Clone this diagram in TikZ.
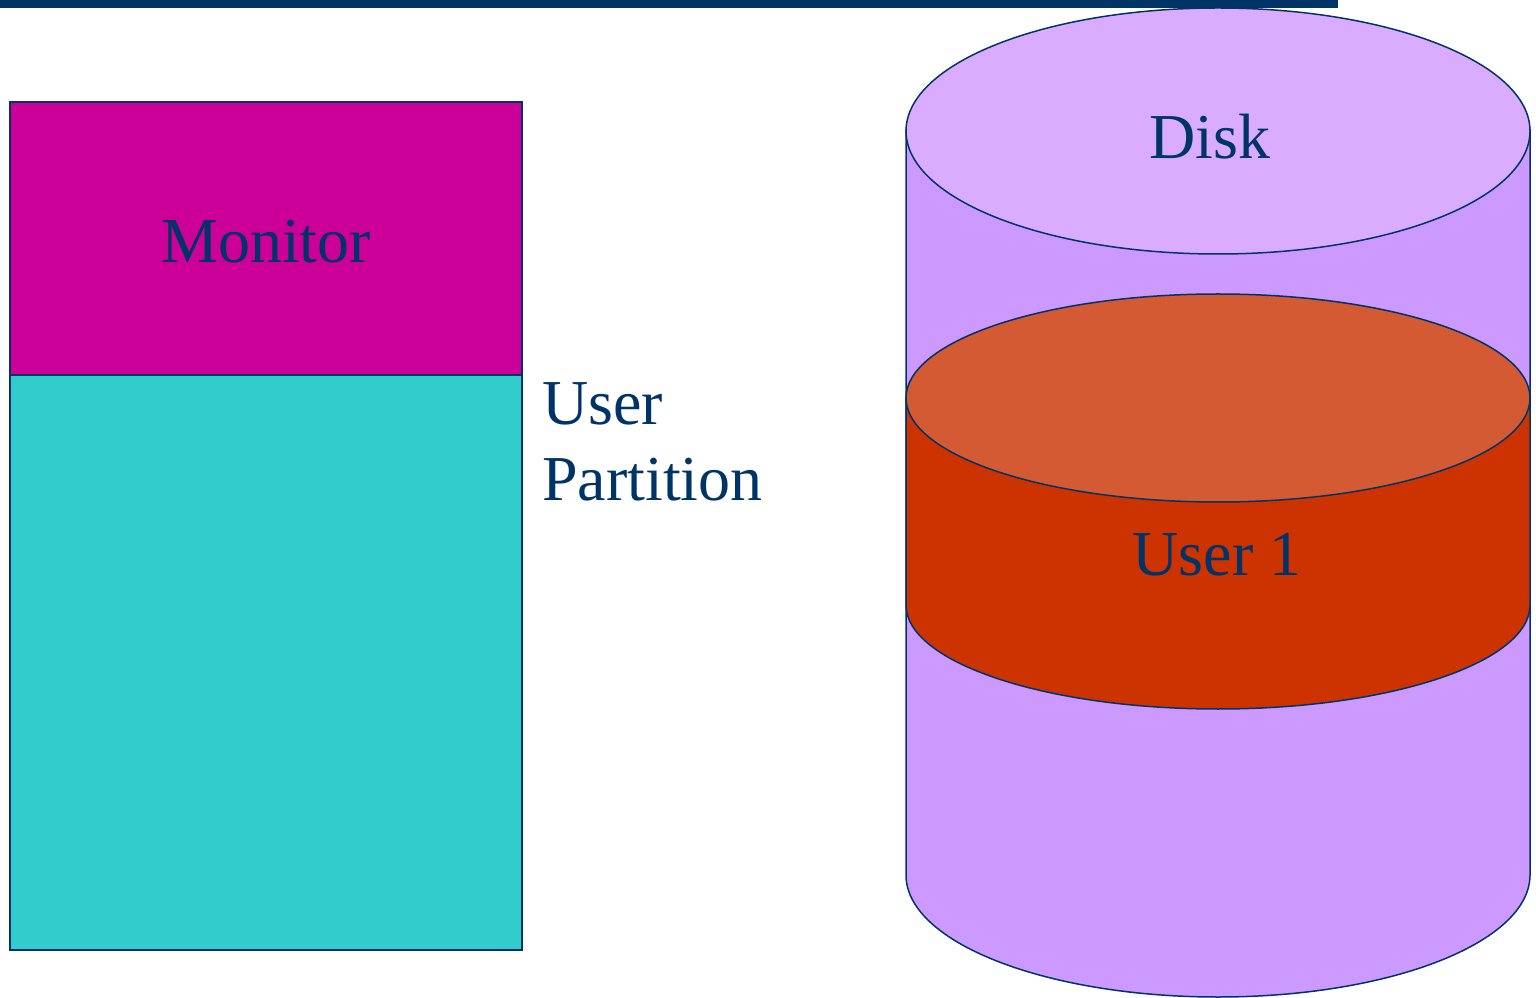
\documentclass[tikz,border=0pt]{standalone}
\usepackage{fontspec}
\setmainfont{Liberation Serif}
\definecolor{navy}{HTML}{003366}
\definecolor{monitorfill}{HTML}{CC0099}
\definecolor{userfill}{HTML}{33CCCC}
\definecolor{diskside}{HTML}{CC99FF}
\definecolor{disktop}{HTML}{D9ACFF}
\definecolor{usrside}{HTML}{CC3300}
\definecolor{usrtop}{HTML}{D45A33}
\tikzset{
  outline/.style={draw=navy, line width=1.5pt},
  label/.style={text=navy, inner sep=0pt, font=\fontsize{64}{76}\selectfont},
}
\begin{document}
\begin{tikzpicture}[x=1pt,y=1pt]
\useasboundingbox (0,0) rectangle (1536,997);
% title rule
\fill[navy] (0,989) rectangle (1338,997);
% memory layout
\path[outline, fill=monitorfill] (10,895) rectangle (522,622);
\path[outline, fill=userfill] (10,622) rectangle (522,47);
\node[label] (monitor) at (266,755) {Monitor};
\node[label, anchor=north west, align=left] (userpart) at (542,615) {User\\Partition};
% disk cylinder
\path[outline, fill=diskside] (906,867) -- (906,122)
  arc[start angle=180, end angle=360, x radius=312, y radius=122]
  -- (1530,867) -- cycle;
\path[outline, fill=disktop] (1218,866) ellipse[x radius=312, y radius=123];
\node[label] (disk) at (1210,860) {Disk};
% user 1 slice
\path[outline, fill=usrside] (906,599) -- (906,392)
  arc[start angle=180, end angle=360, x radius=312, y radius=104]
  -- (1530,599) -- cycle;
\path[outline, fill=usrtop] (1218,599) ellipse[x radius=312, y radius=104];
\node[label] (user1) at (1217,442) {User 1};
\end{tikzpicture}
\end{document}
